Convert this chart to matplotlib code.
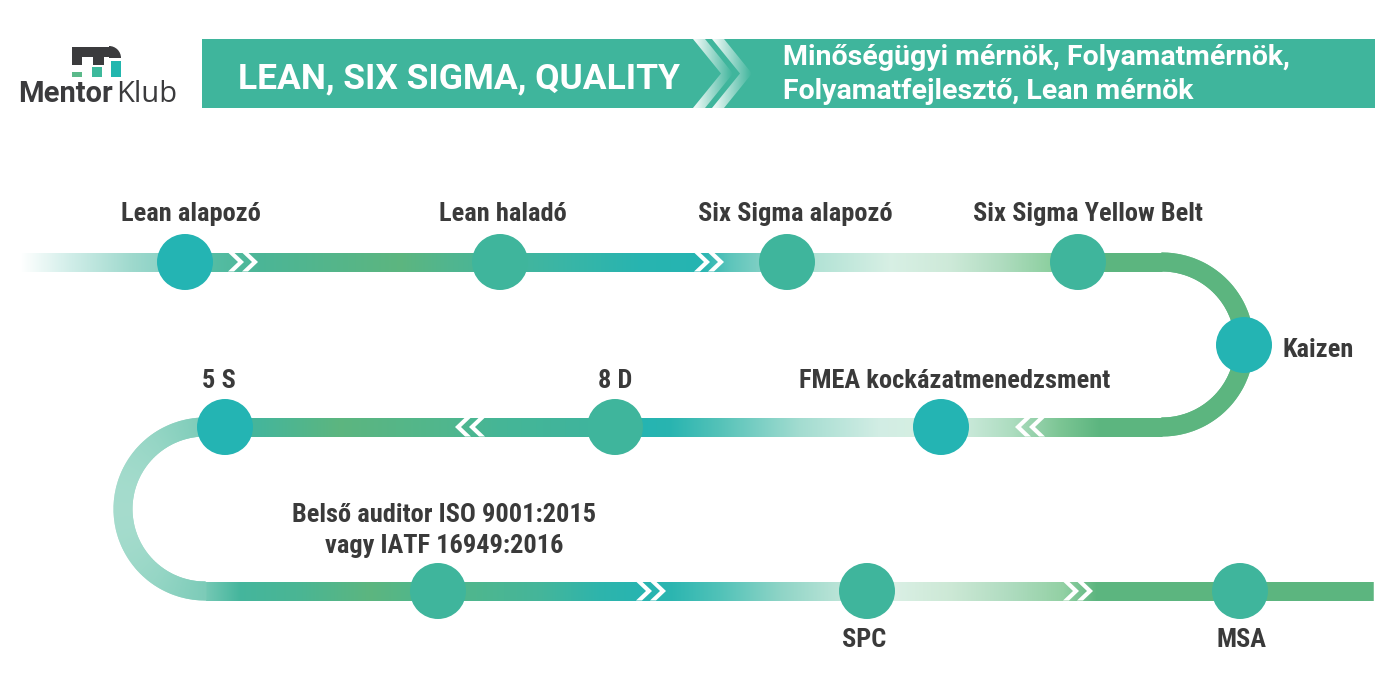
import numpy as np
import matplotlib
matplotlib.use('Agg')
import matplotlib.pyplot as plt
import matplotlib.font_manager as fm
from matplotlib.collections import LineCollection
from matplotlib.patches import Circle, Polygon, Rectangle, Wedge
from matplotlib.colors import to_rgb

# --- content ---
header_title = 'LEAN, SIX SIGMA, QUALITY'
header_roles = ['Minőségügyi mérnök, Folyamatmérnök,', 'Folyamatfejlesztő, Lean mérnök']
steps = ['Lean alapozó', 'Lean haladó', 'Six Sigma alapozó', 'Six Sigma Yellow Belt',
         'Kaizen', 'FMEA kockázatmenedzsment', '8 D', '5 S',
         'Belső auditor ISO 9001:2015\nvagy IATF 16949:2016', 'SPC', 'MSA']
step_kind = ['teal', 'green', 'green', 'green', 'teal', 'teal', 'green', 'teal',
             'green', 'green', 'green']

# --- layout (pixels, y downwards) ---
node_xy = [(185, 262), (500, 262), (787, 262), (1078, 262), (1244, 345),
           (941, 427), (615, 427), (225, 427), (438, 591), (867, 591), (1240, 591)]
label_xy = [(191, 221), (503, 221), (795, 221), (1088, 221), (1282, 357),
            (955, 388), (615, 388), (219, 388), (444, 553), (864, 647), (1241, 647)]

DARK = '#3a3a3a'
TEAL = '#24b4b3'
GREEN_TEAL = '#3fb59c'
GREEN = '#5cb57f'
node_col = {'teal': TEAL, 'green': GREEN_TEAL}

names = {f.name for f in fm.fontManager.ttflist}
if 'Roboto Condensed' in names:
    label_font, label_size = 'Roboto Condensed', 19
else:
    label_font, label_size = 'Roboto', 15

# colour stops along the road, keyed on x
row1_stops = [(20, '#ffffff'), (70, '#d0ede8'), (133, '#9dd8cc'), (157, '#8ed3c6'),
              (213, '#54bca3'), (260, '#4bb596'), (400, GREEN), (450, '#50b58f'),
              (560, '#3ab5a5'), (640, '#27b4b0'), (700, '#25b4b1'), (730, '#5ec5bb'),
              (759, '#7fcfc4'), (815, '#b2e2d5'), (890, '#d7efe4'), (950, '#cde9d8'),
              (1000, '#b0dcc0'), (1050, '#8ccf9f'), (1078, '#76c491'), (1106, GREEN),
              (1170, GREEN)]
row2_stops = [(200, '#7ccbb8'), (230, '#44b59c'), (260, '#45b59a'), (340, GREEN),
              (452, '#4fb68e'), (500, '#45b596'), (587, '#3fb49c'), (643, '#25b4b1'),
              (670, '#28b4b0'), (720, '#55c2b8'), (800, '#a3dcd0'), (880, '#d2ede4'),
              (913, '#d4eee2'), (969, '#c8e8d8'), (1013, '#acdcbf'), (1060, '#7cc594'),
              (1100, GREEN), (1170, GREEN)]
left_arc_stops = [(120, '#a6dccd'), (160, '#94d5c4'), (205, '#7ccbb8')]
row3_stops = [(200, '#7ccbb8'), (240, '#44b59c'), (300, '#4ab593'), (370, GREEN),
              (410, '#52b689'), (466, '#4fb68d'), (540, '#44b59a'), (600, '#2db4ac'),
              (640, '#27b4b0'), (670, '#2bb5b0'), (720, '#52c2b8'), (780, '#8fd4c6'),
              (839, '#bbe4d7'), (895, '#d9efe4'), (950, '#cce8d5'), (1010, '#aedbbf'),
              (1063, '#92d0a3'), (1096, GREEN), (1380, GREEN)]


def stop_colors(xs, stops):
    sx = np.array([s[0] for s in stops], float)
    rgb = np.array([to_rgb(s[1]) for s in stops])
    return np.stack([np.interp(xs, sx, rgb[:, k]) for k in range(3)], axis=1)


def arc(cx, cy, r, a0, a1, n=240):
    t = np.radians(np.linspace(a0, a1, n))
    return np.stack([cx + r * np.cos(t), cy + r * np.sin(t)], axis=1)


pts_list, col_list = [], []
p = np.stack([np.arange(20, 1162, 1.0), np.full(1142, 262.0)], axis=1)
pts_list.append(p); col_list.append(stop_colors(p[:, 0], row1_stops))
p = arc(1162, 344.5, 82.5, -90, 90)
pts_list.append(p); col_list.append(np.tile(to_rgb(GREEN), (len(p), 1)))
xs = np.arange(1161, 205, -1.0)
p = np.stack([xs, np.full(len(xs), 427.0)], axis=1)
pts_list.append(p); col_list.append(stop_colors(p[:, 0], row2_stops))
p = arc(205, 509, 82, 270, 90)
pts_list.append(p); col_list.append(stop_colors(p[:, 0], left_arc_stops))
xs = np.arange(206, 1374, 1.0)
p = np.stack([xs, np.full(len(xs), 591.0)], axis=1)
pts_list.append(p); col_list.append(stop_colors(p[:, 0], row3_stops))
road = np.concatenate(pts_list)
road_col = np.concatenate(col_list)

fig = plt.figure(figsize=(14, 7), dpi=100)
ax = fig.add_axes([0, 0, 1, 1])
ax.set_xlim(0, 1400)
ax.set_ylim(700, 0)
ax.axis('off')

lw = 19 * 72 / 100
n = len(road)
segs = [[road[i], road[min(i + 2, n - 1)]] for i in range(n - 1)]
ax.add_collection(LineCollection(segs, colors=road_col[:-1], linewidths=lw,
                                 capstyle='butt', zorder=2))


def chevrons(x0, y, direction=1, h=9.5, d=10, t=6, gap=14):
    for k in range(2):
        b = x0 + direction * k * gap
        pts = np.array([(0, -h), (t, -h), (t + d, 0), (t, h), (0, h), (d, 0)], float)
        pts[:, 0] = b + direction * pts[:, 0]
        pts[:, 1] += y
        ax.add_patch(Polygon(pts, closed=True, fc='white', ec='none', zorder=3))


chevrons(228, 262)
chevrons(694, 262)
chevrons(1045, 427, -1)
chevrons(485, 427, -1)
chevrons(636, 591)
chevrons(1063, 591)

for (x, y), kind in zip(node_xy, step_kind):
    ax.add_patch(Circle((x, y), 28, fc=node_col[kind], ec='none', zorder=4))

for text, (x, y) in zip(steps, label_xy):
    ha = 'left' if text == 'Kaizen' else 'center'
    ax.text(x, y, text, ha=ha, va='baseline', fontsize=label_size, fontweight='bold',
            family=label_font, color=DARK, linespacing=1.35, multialignment='center', zorder=5)

# --- header band ---
ax.add_patch(Rectangle((202, 39), 1173, 69, fc=GREEN_TEAL, ec='none', zorder=1))
grad = np.zeros((1, 64, 4))
grad[..., :3] = 1.0
grad[..., 3] = np.linspace(0.95, 0.0, 64)
for bx in (693, 712):
    pts = np.array([(bx, 39), (bx + 12, 39), (bx + 40, 73.5), (bx + 12, 108),
                    (bx, 108), (bx + 28, 73.5)])
    poly = Polygon(pts, closed=True, fc='none', ec='none')
    ax.add_patch(poly)
    im = ax.imshow(grad, extent=(bx, bx + 40, 108, 39), aspect='auto', zorder=1.5,
                   interpolation='bilinear')
    im.set_clip_path(poly)

ax.text(238, 88, header_title, ha='left', va='baseline', fontsize=25.5, fontweight='bold',
        family='Roboto', color='white', zorder=5)
ax.text(783, 65, header_roles[0], ha='left', va='baseline', fontsize=20.5, fontweight='bold',
        family='Roboto', color='white', zorder=5)
ax.text(783, 99, header_roles[1], ha='left', va='baseline', fontsize=20.5, fontweight='bold',
        family='Roboto', color='white', zorder=5)

# --- logo ---
LOGO = '#3b3b3d'
ax.add_patch(Rectangle((72, 47), 38, 10, fc=LOGO, ec='none'))
ax.add_patch(Rectangle((72, 47), 10, 18, fc=LOGO, ec='none'))
ax.add_patch(Rectangle((93, 47), 11, 18, fc=LOGO, ec='none'))
ax.add_patch(Wedge((109, 58), 12, 270, 360, fc=LOGO, ec='none'))
ax.add_patch(Rectangle((72, 72), 10, 5, fc='#5bb98a', ec='none'))
ax.add_patch(Rectangle((92, 67), 10, 10, fc='#3db99c', ec='none'))
ax.add_patch(Rectangle((111, 61), 10, 16, fc='#22b6ae', ec='none'))
ax.text(18, 102, 'Mentor', ha='left', va='baseline', fontsize=21, fontweight='bold',
        family='Roboto', color=LOGO)
ax.text(116, 102, 'Klub', ha='left', va='baseline', fontsize=21,
        family='Open Sans', color=LOGO)

fig.savefig('out.png', dpi=100)
